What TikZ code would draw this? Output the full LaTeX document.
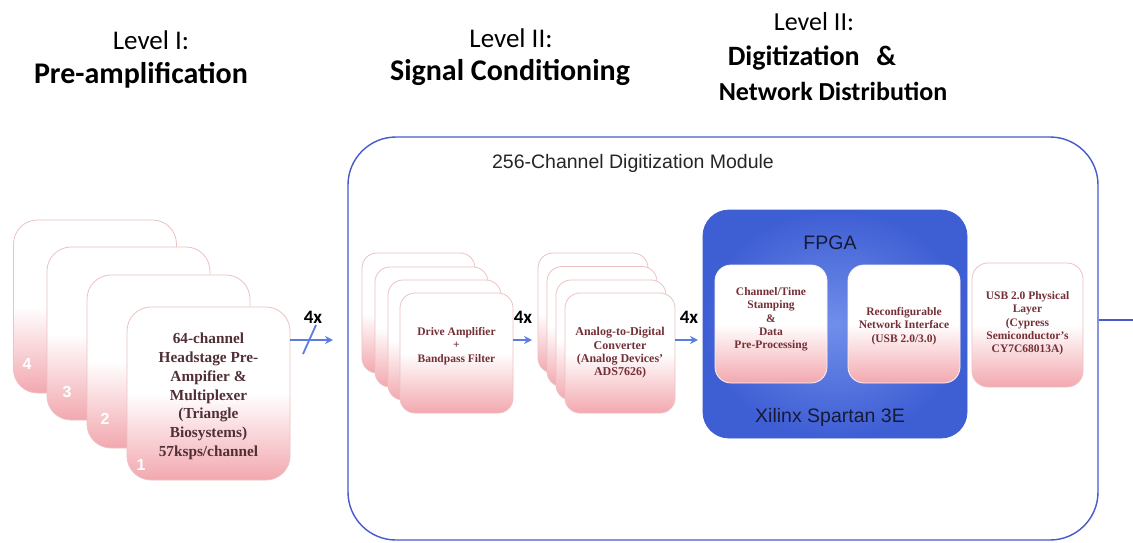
\documentclass[tikz,border=0pt]{standalone}
\usepackage{fontspec}
\setmainfont{Liberation Serif}
\newfontfamily\hdfont{Carlito}
\newfontfamily\arialfont{Liberation Sans}
\usetikzlibrary{arrows.meta}

\definecolor{cardpink}{RGB}{242,168,175}
\definecolor{cardedge}{RGB}{236,194,194}
\definecolor{cardtext}{RGB}{80,48,54}
\definecolor{smalltext}{RGB}{115,48,55}
\definecolor{modblue}{RGB}{70,90,205}
\definecolor{arrowblue}{RGB}{90,125,225}
\definecolor{fpgain}{RGB}{112,142,234}
\definecolor{fpgaout}{RGB}{62,94,212}
\definecolor{navy}{RGB}{22,26,55}

\begin{document}
\begin{tikzpicture}[x=1pt,y=-1pt,
  card/.style={draw=cardedge, line width=0.8pt, top color=white, bottom color=cardpink, middle color=white, inner sep=0pt, align=center},
  bigcard/.style={card, rounded corners=24pt, minimum width=163pt, minimum height=173pt},
  drvcard/.style={card, rounded corners=15pt, minimum width=113pt, minimum height=120pt},
  adccard/.style={card, rounded corners=15pt, minimum width=110pt, minimum height=120pt},
  bigtext/.style={text=cardtext, font=\bfseries\fontsize{15.3}{18.8}\selectfont, align=center},
  smalltxt/.style={text=smalltext, font=\bfseries\fontsize{11.5}{13.3}\selectfont, align=center},
  numlbl/.style={text=white, font=\arialfont\bfseries\fontsize{16}{16}\selectfont},
  lvl/.style={font=\hdfont\fontsize{#1}{#1}\selectfont, text=black},
  ttl/.style={font=\hdfont\bfseries\fontsize{#1}{#1}\selectfont, text=black, align=center},
  times/.style={font=\hdfont\bfseries\fontsize{19}{19}\selectfont, text=black},
  arr/.style={draw=arrowblue, line width=2pt, -{Stealth[length=8pt,width=8pt]}},
]
\useasboundingbox (0,0) rectangle (1133,542);
\fill[white] (0,0) rectangle (1133,542);

% headers
\node[lvl=27] (h1a) at (151,40) {Level I:};
\node[ttl=30] (h1b) at (141,75) {Pre-amplification};
\node[lvl=27] (h2a) at (511,38) {Level II:};
\node[ttl=30] (h2b) at (510,72) {Signal Conditioning};
\node[lvl=26] (h3a) at (814,22) {Level II:};
\node[ttl=28] (h3b) at (812,58) {Digitization\hspace{0.6em}\&};
\node[ttl=26] (h3c) at (833,91) {Network Distribution};

% module outline
\node[draw=modblue, line width=1.4pt, rounded corners=48pt, minimum width=750pt, minimum height=403pt, inner sep=0pt] (mod) at (723,338.5) {};
\node[font=\arialfont\fontsize{19.5}{19.5}\selectfont, text=black!85] (modlbl) at (633,163) {256-Channel Digitization Module};
\coordinate (exit) at (1133,320);
\draw[modblue, line width=1.4pt] (mod.east |- exit) -- (exit);

% level I stack
\node[bigcard] (c4) at (95,306.5) {};
\node[numlbl] (n4) at (27,364) {4};
\node[bigcard] (c3) at (128.5,333.5) {};
\node[numlbl] (n3) at (67,392) {3};
\node[bigcard] (c2) at (168.5,361.5) {};
\node[numlbl] (n2) at (105,419) {2};
\node[bigcard] (c1) at (208.5,393.5) {};
\node[numlbl] (n1) at (141,465) {1};
\node[bigtext] (c1t) at (208.5,396.5) {64-channel\\Headstage Pre-\\Ampifier \&\\Multiplexer\\(Triangle\\Biosystems)\\57ksps/channel};

% arrow 1
\coordinate (in1) at (333,340);
\draw[arr] (c1.east |- in1) -- (in1);
\coordinate (sl1) at (303,354);
\coordinate (sl2) at (316,325);
\draw[arrowblue, line width=1.8pt] (sl1) -- (sl2);
\node[times] (x1) at (313,317) {4x};

% drive amplifier stack
\node[drvcard] (d4) at (418.5,313) {};
\node[drvcard] (d3) at (431.5,327) {};
\node[drvcard] (d2) at (444.5,340) {};
\node[drvcard] (d1) at (456.5,353) {};
\node[smalltxt] (d1t) at (456.5,346) {Drive Amplifier\\+\\Bandpass Filter};

\coordinate (in2) at (532,340);
\draw[arr] (d1.east |- in2) -- (in2);
\node[times] (x2) at (523,317) {4x};

% ADC stack
\node[adccard] (a4) at (593,313) {};
\node[adccard] (a3) at (602,326.5) {};
\node[adccard] (a2) at (611,340) {};
\node[adccard] (a1) at (620,353) {};
\node[smalltxt, font=\bfseries\fontsize{12}{13.3}\selectfont] (a1t) at (620,353) {Analog-to-Digital\\Converter\\(Analog Devices'\\ADS7626)};

\coordinate (in3) at (698,340);
\draw[arr] (a1.east |- in3) -- (in3);
\node[times] (x3) at (689,317) {4x};

% FPGA
\node[draw=fpgaout, line width=0.8pt, rounded corners=26pt, inner color=fpgain, outer color=fpgaout, minimum width=264pt, minimum height=228pt] (fpga) at (835,324) {};
\node[font=\arialfont\fontsize{19.5}{19.5}\selectfont, text=navy] (fpgalbl) at (830,243) {FPGA};
\node[font=\arialfont\fontsize{19.5}{19.5}\selectfont, text=navy] (xil) at (830,417) {Xilinx Spartan 3E};
\node[card, draw=white!85!cardpink, rounded corners=16pt, minimum width=112pt, minimum height=118pt] (cts) at (771,324) {};
\node[smalltxt] (ctst) at (771,319.5) {Channel/Time\\Stamping\\\&\\Data\\Pre-Processing};
\node[card, draw=white!85!cardpink, rounded corners=16pt, minimum width=112pt, minimum height=118pt] (rni) at (904,324) {};
\node[smalltxt] (rnit) at (904,326) {Reconfigurable\\Network Interface\\(USB 2.0/3.0)};

% USB
\node[card, rounded corners=16pt, minimum width=111pt, minimum height=124pt] (usb) at (1027.5,325) {};
\node[smalltxt] (usbt) at (1027.5,323.5) {USB 2.0 Physical\\Layer\\(Cypress\\Semiconductor's\\CY7C68013A)};
\end{tikzpicture}
\end{document}
